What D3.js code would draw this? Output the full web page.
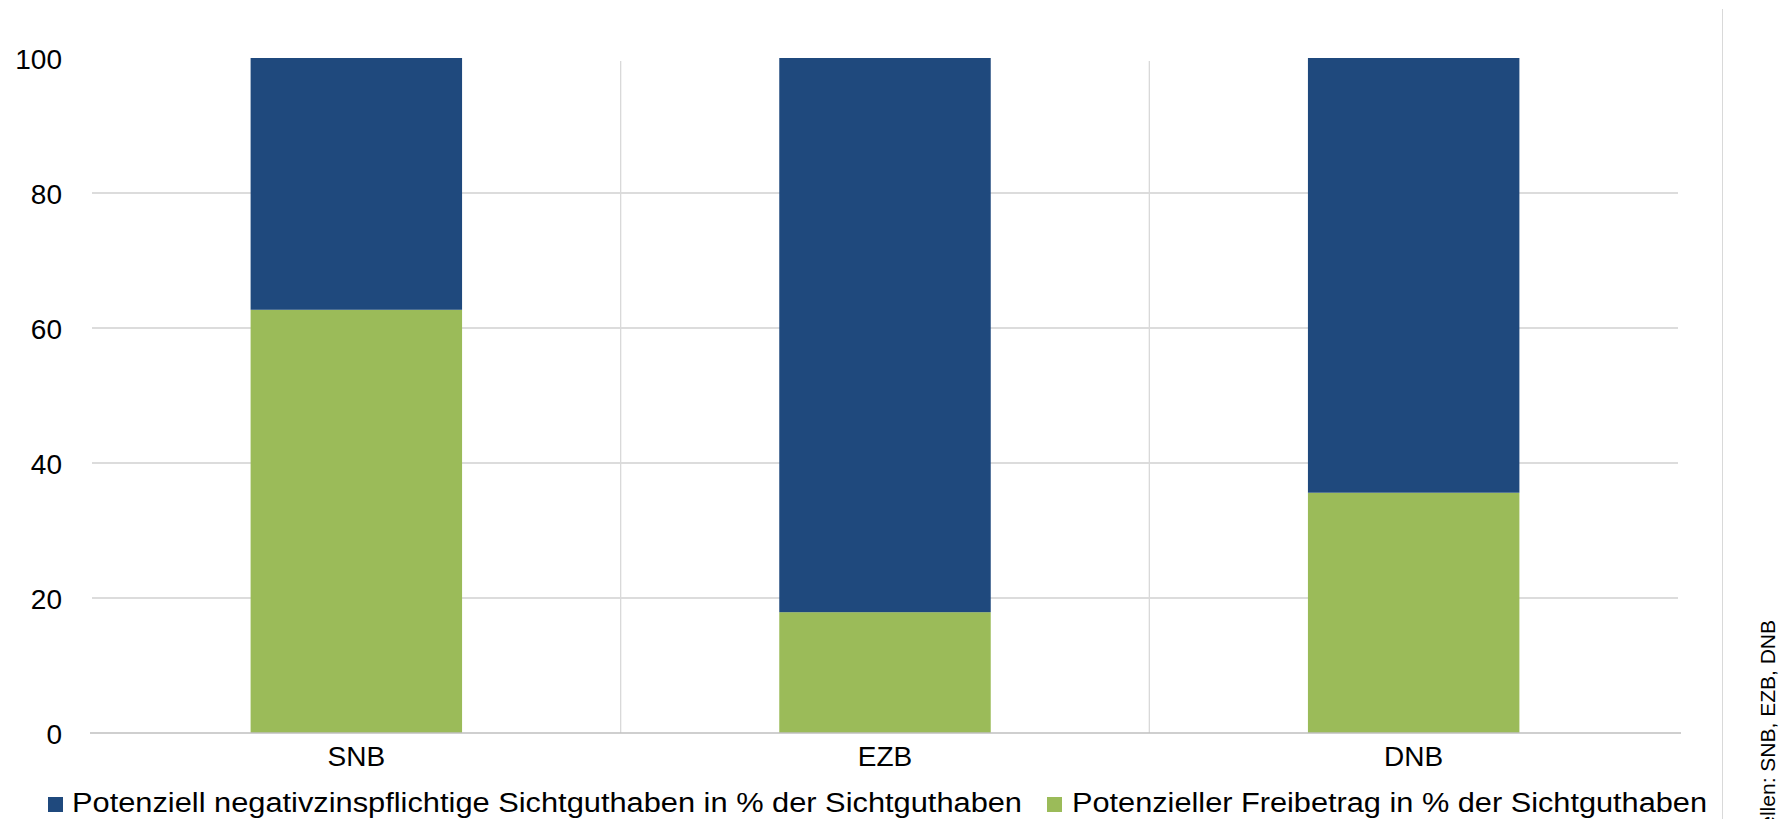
<!DOCTYPE html>
<html>
<head>
<meta charset="utf-8">
<script src="https://cdn.jsdelivr.net/npm/d3@7"></script>
<style>
  html, body { margin: 0; padding: 0; background: #ffffff; }
  svg { display: block; font-family: "Liberation Sans", Arial, sans-serif; }
</style>
</head>
<body>
<svg id="chart" width="1779" height="819"></svg>
<script>
const categories = ["SNB", "EZB", "DNB"];
const seriesNames = [
  "Potenziell negativzinspflichtige Sichtguthaben in % der Sichtguthaben",
  "Potenzieller Freibetrag in % der Sichtguthaben"
];
const freibetrag = [62.7, 17.9, 35.6];
const negativ = [37.3, 82.1, 64.4];
const yTicks = [0, 20, 40, 60, 80, 100];
const sourceText = "Quellen: SNB, EZB, DNB";

(function () {
const colors = { negativ: "#1F497D", frei: "#9BBB59" };

const svg = d3.select("#chart");
const mLeft = 92, mRight = 1678, mTop = 58, mBottom = 733;

const x = d3.scaleBand().domain(categories).range([mLeft, mRight]).paddingInner(0.6).paddingOuter(0.3);
const y = d3.scaleLinear().domain([0, 100]).range([mBottom, mTop]);

// horizontal gridlines (none at 0 and 100)
svg.append("g").selectAll("line").data(yTicks.filter(d => d > 0 && d < 100)).join("line")
  .attr("x1", mLeft).attr("x2", mRight)
  .attr("y1", d => y(d)).attr("y2", d => y(d))
  .attr("stroke", "#d0d0d0").attr("stroke-width", 1.3);

// vertical category separators
const step = x.step();
svg.append("g").selectAll("line").data(categories.slice(1)).join("line")
  .attr("x1", d => x(d) - (step - x.bandwidth()) / 2)
  .attr("x2", d => x(d) - (step - x.bandwidth()) / 2)
  .attr("y1", y(100) + 3).attr("y2", y(0))
  .attr("stroke", "#d9d9d9").attr("stroke-width", 1.3);

// stacked data
const rows = categories.map((c, i) => ({ cat: c, frei: freibetrag[i], negativ: negativ[i] }));
const stack = d3.stack().keys(["frei", "negativ"])(rows);

svg.append("g").selectAll("g").data(stack).join("g")
  .attr("fill", d => colors[d.key])
  .selectAll("rect").data(d => d).join("rect")
  .attr("x", d => x(d.data.cat))
  .attr("width", x.bandwidth())
  .attr("y", d => y(d[1]))
  .attr("height", d => y(d[0]) - y(d[1]));

// zero axis line
svg.append("line")
  .attr("x1", mLeft - 2).attr("x2", mRight + 3)
  .attr("y1", y(0)).attr("y2", y(0))
  .attr("stroke", "#bfbfbf").attr("stroke-width", 1.5);

// y axis labels
const yAxis = d3.axisLeft(y).tickValues(yTicks).tickSize(0).tickPadding(0).tickFormat(d3.format("d"));
const gy = svg.append("g").attr("transform", "translate(62,0)").call(yAxis);
gy.select(".domain").remove();
gy.selectAll("text").attr("font-size", 28).attr("fill", "#000").attr("font-family", "Liberation Sans, Arial, sans-serif").attr("dy", "0.36em");

// x axis labels
const xAxis = d3.axisBottom(x).tickSize(0).tickPadding(0);
const gx = svg.append("g").attr("transform", `translate(0,${mBottom})`).call(xAxis);
gx.select(".domain").remove();
gx.selectAll("text").attr("font-size", 28).attr("fill", "#000").attr("font-family", "Liberation Sans, Arial, sans-serif")
  .attr("dy", null).attr("y", 33);

// legend
const legendItems = [
  { name: seriesNames[0], color: colors.negativ, sx: 48, tx: 72, len: 950 },
  { name: seriesNames[1], color: colors.frei, sx: 1047, tx: 1072, len: 635 }
];
const lg = svg.append("g");
legendItems.forEach(it => {
  lg.append("rect").attr("x", it.sx).attr("y", 797).attr("width", 15).attr("height", 15).attr("fill", it.color);
  lg.append("text").attr("x", it.tx).attr("y", 812).attr("font-size", 27).attr("fill", "#000")
    .attr("textLength", it.len).attr("lengthAdjust", "spacingAndGlyphs").text(it.name);
});

// right separator and source (cut off at the bottom edge, as in the original)
svg.append("line").attr("x1", 1722.5).attr("x2", 1722.5).attr("y1", 9).attr("y2", 819)
  .attr("stroke", "#d9d9d9").attr("stroke-width", 1);
svg.append("text")
  .attr("transform", "translate(1775,620) rotate(-90)")
  .attr("text-anchor", "end")
  .attr("font-size", 21).attr("fill", "#000")
  .text(sourceText);
})();
</script>
</body>
</html>
